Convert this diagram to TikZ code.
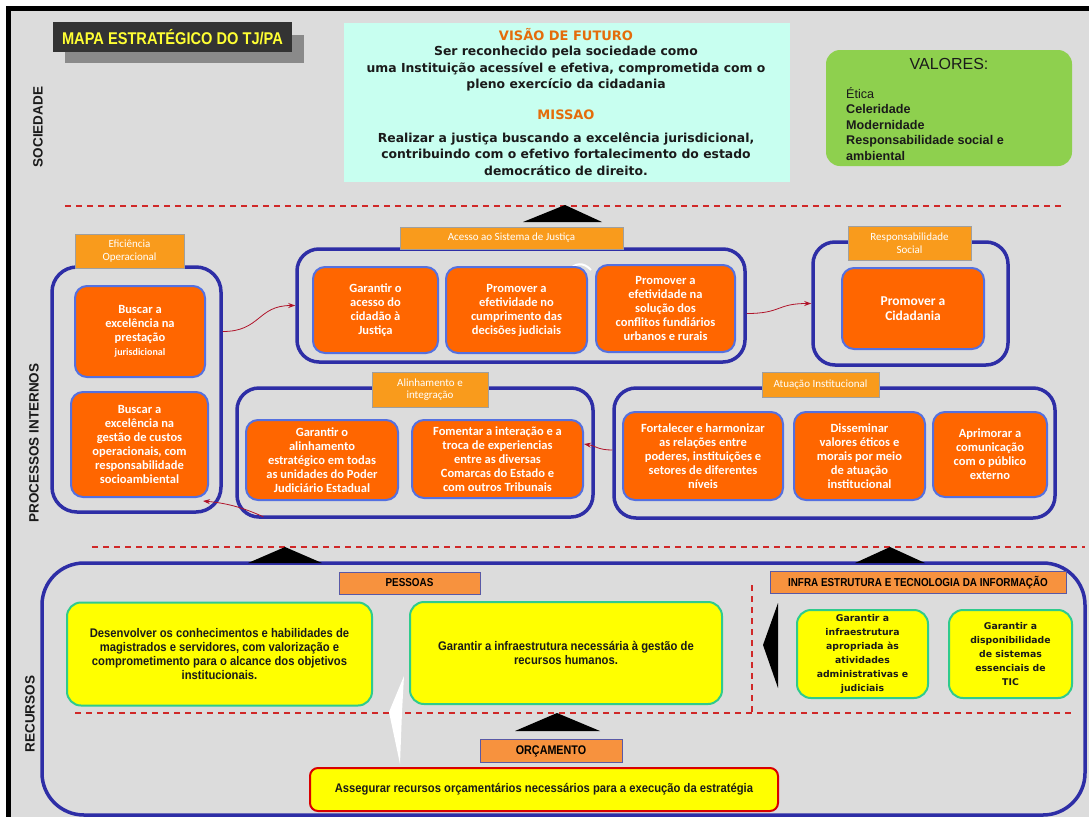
\documentclass[tikz,border=0pt]{standalone}
\usepackage{fontspec}
\setmainfont{Liberation Sans}
\newfontfamily\calib{Carlito}
\newfontfamily\dvs{DejaVu Sans}
\newfontfamily\nar[FakeStretch=0.9]{Liberation Sans}
\newfontfamily\nart[FakeStretch=0.86]{Liberation Sans}
\usetikzlibrary{arrows.meta,calc}
\definecolor{bg}{HTML}{DCDCDC}
\definecolor{frameblue}{HTML}{2E2EA6}
\definecolor{boxorange}{HTML}{FF6600}
\definecolor{boxedge}{HTML}{5470E0}
\definecolor{lblorange}{HTML}{F99B1C}
\definecolor{lblorangeb}{HTML}{F7923E}
\definecolor{yel}{HTML}{FFFF00}
\definecolor{yeledge}{HTML}{2FCB8C}
\definecolor{cyanbox}{HTML}{C8FFF0}
\definecolor{greenbox}{HTML}{8ED04E}
\definecolor{dashred}{HTML}{D02828}
\definecolor{arrowred}{HTML}{B0142A}
\definecolor{visorange}{HTML}{E46C0A}
\definecolor{titledark}{HTML}{333333}
\definecolor{shadowgray}{HTML}{8A8A8A}
\definecolor{titleyellow}{HTML}{FFFF33}
\definecolor{txtdark}{HTML}{1A1A1A}
\begin{document}
\begin{tikzpicture}[x=1pt,y=-1pt,
  frame/.style={draw=frameblue, line width=3.5pt, rounded corners=22pt, inner sep=0pt},
  obox/.style={draw=boxedge, line width=2pt, fill=boxorange, rounded corners=12pt, text=white, align=center, inner sep=0pt, font=\calib\bfseries\fontsize{12.5}{14}\selectfont},
  lbl/.style={draw=gray!75, line width=0.8pt, fill=lblorange, text=white, align=center, inner sep=0pt, font=\calib\fontsize{11}{12.5}\selectfont},
  lblb/.style={draw=gray!70!blue, line width=0.8pt, fill=lblorangeb, text=black, align=center, inner sep=0pt, font=\nart\bfseries\fontsize{11.5}{12}\selectfont},
  ybox/.style={draw=yeledge, line width=2pt, fill=yel, rounded corners=14pt, align=center, inner sep=0pt, text=txtdark},
  pefont/.style={font=\nar\bfseries\fontsize{12.5}{14}\selectfont},
  infont/.style={font=\dvs\bfseries\fontsize{9.3}{14}\selectfont},
  sep/.style={draw=dashred, line width=1.6pt, dash pattern=on 6pt off 5pt},
  link/.style={draw=arrowred, line width=0.8pt, -{Stealth[length=7pt,width=5pt]}},
  sidelbl/.style={rotate=90, font=\bfseries\fontsize{13.5}{13.5}\selectfont, text=txtdark},
  visfont/.style={font=\dvs\bfseries\fontsize{12.4}{16.5}\selectfont, text=txtdark, align=center},
  vishead/.style={font=\dvs\bfseries\fontsize{13}{13}\selectfont, text=visorange}
]
\useasboundingbox (0,0) rectangle (1089,817);
\fill[white] (0,0) rectangle (1089,817);
\fill[bg] (8,8) rectangle (1089,817);
\fill[black] (6,6) rectangle (11,817);
\fill[black] (6,6) rectangle (1089,11);

% title
\fill[shadowgray] (65,35) rectangle (304,63);
\node[fill=titledark, minimum width=239pt, minimum height=30pt, inner sep=0pt, text=titleyellow, font=\nart\bfseries\fontsize{17}{17}\selectfont] (title) at (172.5,37) {MAPA ESTRATÉGICO DO TJ/PA};

% side labels
\node[sidelbl] (sSoc) at (38,127) {SOCIEDADE};
\node[sidelbl] (sProc) at (34,443) {PROCESSOS INTERNOS};
\node[sidelbl] (sRec) at (30,714) {RECURSOS};

% vision / mission
\node[fill=cyanbox, minimum width=446pt, minimum height=159pt, inner sep=0pt] (vis) at (566.5,102.5) {};
\node[vishead] (visT) at (566,35) {VISÃO DE FUTURO};
\node[visfont] (visX) at (566,69) {Ser reconhecido pela sociedade como\\uma Instituição acessível e efetiva, comprometida com o\\pleno exercício da cidadania};
\node[vishead] (misT) at (566,115) {MISSAO};
\node[visfont] (misX) at (566,154) {Realizar a justiça buscando a excelência jurisdicional,\\contribuindo com o efetivo fortalecimento do estado\\democrático de direito.};

% values
\node[fill=greenbox, rounded corners=14pt, minimum width=246pt, minimum height=116pt, inner sep=0pt] (val) at (949,108) {};
\node[font=\fontsize{16}{16}\selectfont, text=txtdark] (valT) at (949,64) {VALORES:};
\node[anchor=north west, align=left, inner sep=0pt, text=txtdark, font=\bfseries\fontsize{12.6}{15.5}\selectfont] (valL) at (846,87) {{\mdseries Ética}\\Celeridade\\Modernidade\\Responsabilidade social e\\ambiental};

% separators
\draw[sep] (65,206) -- (1062,206);
\draw[sep] (92,547) -- (1085,547);
\draw[sep] (75,713) -- (1075,713);
\draw[sep] (752,585) -- (752,712);

% triangles
\fill[black] (523,222) -- (565,205) -- (602,222) -- cycle;
\fill[black] (515,731) -- (557,713) -- (600,731) -- cycle;
\fill[black] (778,603) -- (763,645) -- (778,688) -- cycle;

% ---- processos internos frames
\node[frame, rounded corners=25pt, minimum width=169pt, minimum height=245pt] (frameEf) at (136.5,389.5) {};
\node[frame, minimum width=448pt, minimum height=113pt] (frameAc) at (521,305.5) {};
\node[frame, minimum width=195pt, minimum height=123pt] (frameRs) at (910.5,303.5) {};
\node[frame, minimum width=356pt, minimum height=129pt] (frameAl) at (415,452.5) {};
\node[frame, minimum width=441pt, minimum height=130pt] (frameAt) at (834.5,453) {};

% white arc artifact
\draw[white, line width=2pt] (568,272) .. controls (574,262) and (584,262) .. (591,270);

% orange boxes
\node[obox, minimum width=130pt, minimum height=91pt] (ef1) at (140,331.5) {Buscar a\\excelência na\\prestação\\{\fontsize{10}{14}\selectfont jurisdicional}};
\node[obox, minimum width=137pt, minimum height=105pt] (ef2) at (139.5,444.5) {Buscar a\\excelência na\\gestão de custos\\operacionais, com\\responsabilidade\\socioambiental};
\node[obox, minimum width=125pt, minimum height=86pt] (ac1) at (375.5,310) {Garantir o\\acesso do\\cidadão à\\Justiça};
\node[obox, minimum width=141pt, minimum height=86pt] (ac2) at (516.5,310) {Promover a\\efetividade no\\cumprimento das\\decisões judiciais};
\node[obox, minimum width=139pt, minimum height=87pt] (ac3) at (665.5,308.5) {Promover a\\efetividade na\\solução dos\\conflitos fundiários\\urbanos e rurais};
\node[obox, minimum width=142pt, minimum height=81pt, font=\calib\bfseries\fontsize{13.5}{15}\selectfont] (rs1) at (913,308.5) {Promover a\\Cidadania};
\node[obox, minimum width=152pt, minimum height=80pt] (al1) at (322,460) {Garantir o\\alinhamento\\estratégico em todas\\as unidades do Poder\\Judiciário Estadual};
\node[obox, minimum width=171pt, minimum height=78pt] (al2) at (497.5,459) {Fomentar a interação e a\\troca de experiencias\\entre as diversas\\Comarcas do Estado e\\com outros Tribunais};
\node[obox, minimum width=160pt, minimum height=88pt] (at1) at (703,456) {Fortalecer e harmonizar\\as relações entre\\poderes, instituições e\\setores de diferentes\\níveis};
\node[obox, minimum width=131pt, minimum height=88pt] (at2) at (859.5,456) {Disseminar\\valores éticos e\\morais por meio\\de atuação\\institucional};
\node[obox, minimum width=114pt, minimum height=85pt] (at3) at (990,454.5) {Aprimorar a\\comunicação\\com o público\\externo};

% labels
\node[lbl, minimum width=109pt, minimum height=34pt] (lblEf) at (129.5,251) {Eficiência\\Operacional};
\node[lbl, minimum width=223pt, minimum height=22pt] (lblAc) at (511.5,238) {Acesso ao Sistema de Justiça};
\node[lbl, minimum width=123pt, minimum height=34pt] (lblRs) at (909.5,243) {Responsabilidade\\Social};
\node[lbl, minimum width=116pt, minimum height=35pt] (lblAl) at (430,389.5) {Alinhamento e\\integração};
\node[lbl, minimum width=117pt, minimum height=25pt] (lblAt) at (820.5,384.5) {Atuação Institucional};

% connectors
\draw[link] (frameEf.east |- ef1.east) .. controls +(38,0) and +(-38,0) .. (frameAc.west);
\draw[link] ($(frameAc.east)+(0,8)$) .. controls +(35,0) and +(-35,0) .. (frameRs.west);
\draw[link] ($(frameAt.west)+(0,-3)$) .. controls +(-14,0) and +(12,2) .. ($(al2.east)+(0,-15)$);
\draw[link] ($(frameAl.south west)+(28,-2)$) .. controls +(-22,-10) and +(22,2) .. ($(ef2.south east)+(-6,3)$);

% ---- recursos
\node[frame, rounded corners=42pt, minimum width=1043pt, minimum height=252pt] (frameRe) at (563.5,689) {};
\fill[black] (248,563) -- (285,547) -- (322,563) -- cycle;
\fill[black] (855,563) -- (890,547) -- (925,563) -- cycle;

\node[lblb, minimum width=141pt, minimum height=22pt] (lblPe) at (409.5,583) {PESSOAS};
\node[ybox, pefont, minimum width=305pt, minimum height=103pt] (pe1) at (219.5,654) {Desenvolver os conhecimentos e habilidades de\\magistrados e servidores, com valorização e\\comprometimento para o alcance dos objetivos\\institucionais.};
\node[ybox, pefont, minimum width=312pt, minimum height=102pt] (pe2) at (566,653) {Garantir a infraestrutura necessária à gestão de\\recursos humanos.};
\node[lblb, minimum width=296pt, minimum height=22pt] (lblIn) at (918,582.5) {INFRA ESTRUTURA E TECNOLOGIA DA INFORMAÇÃO};
\node[ybox, infont, minimum width=131pt, minimum height=88pt] (in1) at (862.5,654) {Garantir a\\infraestrutura\\apropriada às\\atividades\\administrativas e\\judiciais};
\node[ybox, infont, minimum width=123pt, minimum height=88pt] (in2) at (1010.5,654) {Garantir a\\disponibilidade\\de sistemas\\essenciais de\\TIC};

% white sliver
\fill[white] (404,676) -- (389,712) -- (400,764) -- (402,712) -- cycle;

\node[lblb, font=\nart\bfseries\fontsize{12.5}{13}\selectfont, minimum width=142pt, minimum height=23pt] (lblOr) at (551,751) {ORÇAMENTO};
\node[ybox, draw=red!85!black, rounded corners=8pt, font=\nar\bfseries\fontsize{12.5}{13}\selectfont, minimum width=468pt, minimum height=43pt] (or1) at (544,789.5) {Assegurar recursos orçamentários necessários para a execução da estratégia};
\end{tikzpicture}
\end{document}
